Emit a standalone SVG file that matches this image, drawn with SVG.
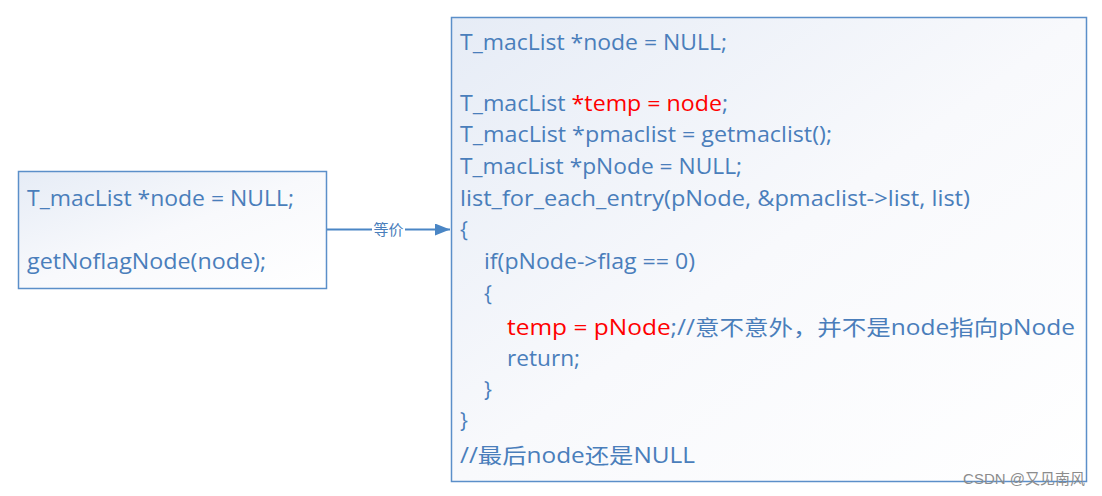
<svg xmlns="http://www.w3.org/2000/svg" width="1102" height="496" viewBox="0 0 1102 496">
<defs>
<linearGradient id="bg" x1="0" y1="0" x2="1" y2="1">
<stop offset="0" stop-color="#e6ecf6"/>
<stop offset="0.5" stop-color="#f8f9fc"/>
<stop offset="1" stop-color="#ffffff"/>
</linearGradient>
<marker id="ah" markerWidth="15" markerHeight="12" refX="15" refY="6" orient="auto" markerUnits="userSpaceOnUse">
<path d="M0,0 L15,6 L0,12 Z" fill="#4a86c5"/>
</marker>
<style>
.box{fill:url(#bg);stroke:#5b8fc9;stroke-width:1.5}
.t{font-family:"Open Sans","Noto Sans CJK SC",sans-serif;font-size:21px;fill:#4a7ebb}
.r{fill:#ff0000}
.lbl{font-family:"Noto Sans CJK SC",sans-serif;font-size:15px;fill:#4a7ebb}
.wm{font-family:"Liberation Sans","Noto Sans CJK SC",sans-serif;font-size:15px;fill:#8c8c8c}
</style>
</defs>
<rect width="1102" height="496" fill="#ffffff"/>
<g id="connectors">
<line x1="327" y1="229.5" x2="372" y2="229.5" stroke="#4a86c5" stroke-width="2"/>
<line x1="405" y1="229.5" x2="450" y2="229.5" stroke="#4a86c5" stroke-width="2" marker-end="url(#ah)"/>
<text class="lbl" x="388.5" y="235" text-anchor="middle">等价</text>
</g>
<g id="left">
<rect class="box" x="18.5" y="171.5" width="308" height="117"/>
<text class="t" x="27" y="206" textLength="267" lengthAdjust="spacingAndGlyphs">T_macList *node = NULL;</text>
<text class="t" x="27" y="269" textLength="239" lengthAdjust="spacingAndGlyphs">getNoflagNode(node);</text>
</g>
<g id="right">
<rect class="box" x="451.5" y="17.5" width="635" height="464"/>
<text class="t" x="460" y="50" textLength="267" lengthAdjust="spacingAndGlyphs">T_macList *node = NULL;</text>
<text class="t" x="460" y="111" textLength="268" lengthAdjust="spacingAndGlyphs">T_macList <tspan class="r">*temp = node</tspan>;</text>
<text class="t" x="460" y="142" textLength="372" lengthAdjust="spacingAndGlyphs">T_macList *pmaclist = getmaclist();</text>
<text class="t" x="460" y="174" textLength="282" lengthAdjust="spacingAndGlyphs">T_macList *pNode = NULL;</text>
<text class="t" x="460" y="206" textLength="510" lengthAdjust="spacingAndGlyphs">list_for_each_entry(pNode, &amp;pmaclist-&gt;list, list)</text>
<text class="t" x="460" y="237">{</text>
<text class="t" x="484" y="269" textLength="211" lengthAdjust="spacingAndGlyphs">if(pNode-&gt;flag == 0)</text>
<text class="t" x="484" y="301">{</text>
<text class="t" x="507" y="335" textLength="568" lengthAdjust="spacingAndGlyphs"><tspan class="r">temp = pNode</tspan>;//意不意外，并不是node指向pNode</text>
<text class="t" x="507" y="366" textLength="73" lengthAdjust="spacingAndGlyphs">return;</text>
<text class="t" x="484" y="397">}</text>
<text class="t" x="460" y="428">}</text>
<text class="t" x="460" y="463" textLength="235" lengthAdjust="spacingAndGlyphs">//最后node还是NULL</text>
</g>
<text class="wm" x="1085" y="484" text-anchor="end">CSDN @又见南风</text>
</svg>
